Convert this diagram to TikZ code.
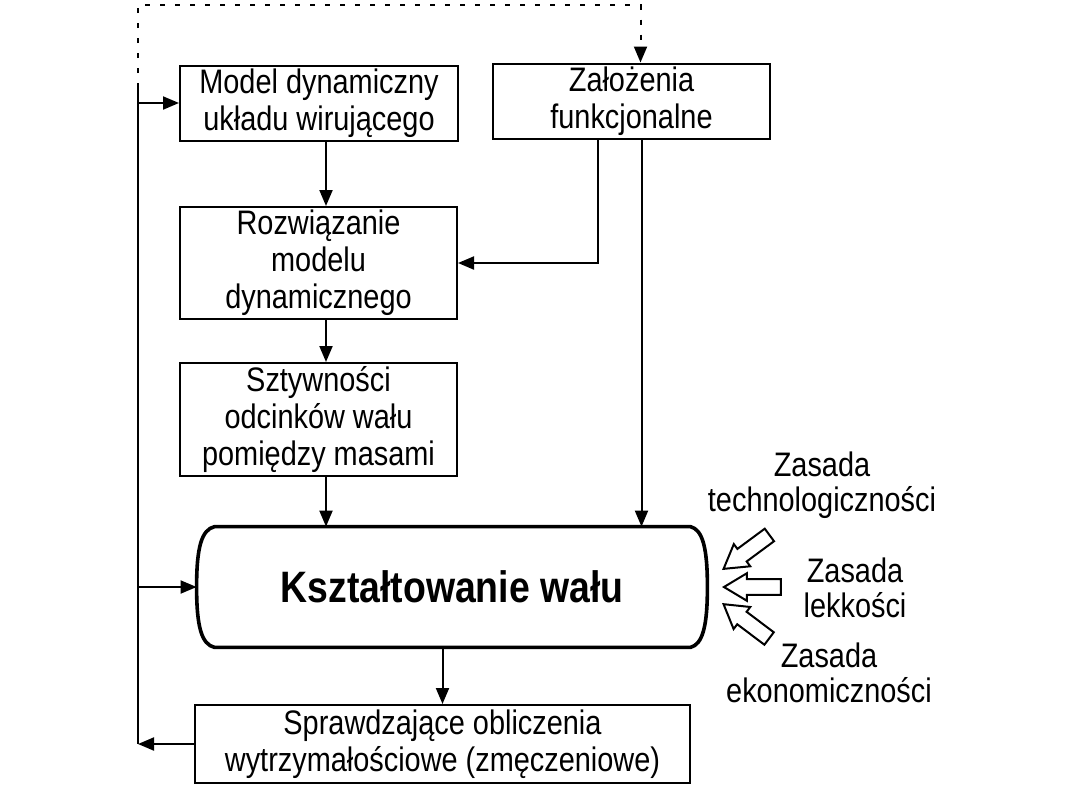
\documentclass[tikz,border=0pt]{standalone}
\usepackage{fontspec}
\setmainfont{Liberation Sans}[FakeStretch=0.85]
\usetikzlibrary{positioning, arrows.meta, calc, shapes.arrows}

\tikzset{
  blok/.style={draw, line width=1pt, align=center, inner sep=0pt,
               font=\fontsize{17}{18.5}\selectfont},
  arr/.style={line width=1pt, -{Triangle[length=8pt,width=6.5pt]}},
  kropki/.style={line width=1pt, dash pattern=on 2.5pt off 5pt},
  zasada/.style={align=center, font=\fontsize{17}{17.5}\selectfont},
  pusta/.style={single arrow, draw, line width=1pt, inner xsep=0pt, inner ysep=3.4pt,
                single arrow head extend=3pt, single arrow tip angle=62,
                minimum height=28.5pt, anchor=tip}
}

\begin{document}
\begin{tikzpicture}[x=0.5pt, y=-0.5pt]
  \useasboundingbox (0,0) rectangle (1080,810);

  % bloki
  \node[blok, minimum width=139pt, minimum height=37.5pt] (model) at (319,103) {Model dynamiczny\\układu wirującego};
  \node[blok, minimum width=138.5pt, minimum height=37.5pt] (zal) at (631.5,101) {Założenia\\funkcjonalne};
  \node[blok, minimum width=138.5pt, minimum height=56pt] (roz) at (318.5,263) {Rozwiązanie\\modelu\\dynamicznego};
  \node[blok, minimum width=138.5pt, minimum height=56.5pt] (szt) at (318.5,419.5) {Sztywności\\odcinków wału\\pomiędzy masami};
  \node[blok, minimum width=247.5pt, minimum height=39pt] (spr) at (442.5,744) {Sprawdzające obliczenia\\wytrzymałościowe (zmęczeniowe)};
  \node[align=center, inner sep=0pt, minimum width=255pt, minimum height=60pt,
        font=\fontsize{22}{24}\selectfont\bfseries] (ksz) at (452,587) {Kształtowanie wału};
  \draw[line width=1.8pt] ($(ksz.north west)+(18,0)$) -- ($(ksz.north east)+(-17,0)$)
    .. controls ($(ksz.north east)+(-5,3)$) and ($(ksz.east)+(0,-40)$) .. (ksz.east)
    .. controls ($(ksz.east)+(0,40)$) and ($(ksz.south east)+(-5,-3)$) .. ($(ksz.south east)+(-17,0)$)
    -- ($(ksz.south west)+(18,0)$)
    .. controls ($(ksz.south west)+(5,-3)$) and ($(ksz.west)+(0,40)$) .. (ksz.west)
    .. controls ($(ksz.west)+(0,-40)$) and ($(ksz.north west)+(5,3)$) .. cycle;

  % polaczenia
  \coordinate (pion) at (326,0);
  \draw[arr] (model.south -| pion) -- (roz.north -| pion);
  \draw[arr] (roz.south -| pion) -- (szt.north -| pion);
  \draw[arr] (szt.south -| pion) -- (ksz.north -| pion);
  \draw[arr] ($(zal.south)+(-34,0)$) |- (roz.east);
  \draw[arr] ($(zal.south)+(10,0)$) coordinate (z2) -- (z2 |- ksz.north);
  \draw[arr] (ksz.south -| spr.north) -- (spr.north);

  % sprzezenie zwrotne
  \coordinate (fb) at (138,88);
  \coordinate (gora) at (138,5);
  \draw[line width=1pt] (fb) -- (fb |- spr.west);
  \draw[arr] (spr.west) -- (spr.west -| fb);
  \draw[arr] (fb |- model.west) -- (model.west);
  \draw[arr] (fb |- ksz.west) -- (ksz.west);
  \draw[kropki, -{Triangle[length=8pt,width=6.5pt]}] (fb) -- (gora) -| ($(zal.north)+(9,0)$);

  % zasady
  \node[pusta, rotate=216.5] (p1) at (722,570) {};
  \node[pusta, rotate=180] (p2) at (722,587) {};
  \node[pusta, rotate=143] (p3) at (722,603) {};
  \node[zasada] (z1) at (822,485) {Zasada\\technologiczności};
  \node[zasada] (z2) at (855,588) {Zasada\\lekkości};
  \node[zasada] (z3) at (829,673) {Zasada\\ekonomiczności};
\end{tikzpicture}
\end{document}
